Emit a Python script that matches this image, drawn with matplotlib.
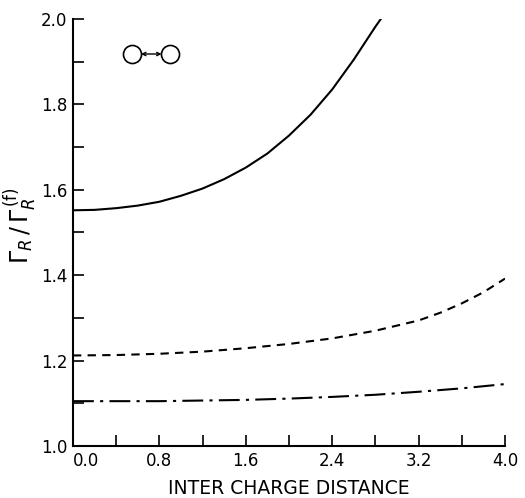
import numpy as np
import matplotlib.pyplot as plt
from matplotlib.ticker import MultipleLocator

# values
x_solid = [0.0, 0.2, 0.4, 0.6, 0.8, 1.0, 1.2, 1.4, 1.6, 1.8, 2.0, 2.2, 2.4, 2.6, 2.8, 2.85]
y_solid = [1.552, 1.553, 1.557, 1.563, 1.572, 1.586, 1.603, 1.625, 1.652, 1.685, 1.727,
           1.776, 1.835, 1.905, 1.982, 2.0]

x_dash = [0.0, 0.4, 0.8, 1.2, 1.6, 2.0, 2.4, 2.8, 3.2, 3.4, 3.6, 3.8, 4.0]
y_dash = [1.212, 1.213, 1.216, 1.221, 1.229, 1.239, 1.252, 1.27, 1.294, 1.312, 1.334,
          1.36, 1.392]

x_dashdot = [0.0, 0.8, 1.6, 2.0, 2.4, 2.8, 3.2, 3.6, 4.0]
y_dashdot = [1.105, 1.105, 1.108, 1.111, 1.115, 1.12, 1.127, 1.135, 1.145]

xticks = [0.0, 0.8, 1.6, 2.4, 3.2, 4.0]
yticks = [1.0, 1.2, 1.4, 1.6, 1.8, 2.0]

plt.rcParams['font.family'] = ['DejaVu Sans']

fig = plt.figure(figsize=(5.25, 4.98), dpi=100)
ax = fig.add_axes([73 / 525, 1 - 446 / 498, 432 / 525, 427 / 498])

ax.plot(x_solid, y_solid, color='black', lw=1.5)
ax.plot(x_dash, y_dash, color='black', lw=1.5, linestyle=(0, (4, 3)))
ax.plot(x_dashdot, y_dashdot, color='black', lw=1.5, linestyle=(0, (10, 3, 1.5, 3)))

# the two-charge symbol
ax.plot([0.545, 0.9], [1.918, 1.918], 'o', ms=13, mfc='none', mec='black', mew=1.2)
ax.annotate('', xy=(0.63, 1.918), xytext=(0.82, 1.918),
            arrowprops=dict(arrowstyle='<->', lw=1.0, color='black',
                            mutation_scale=6, shrinkA=0, shrinkB=0))

ax.set_xlim(0, 4.0)
ax.set_ylim(1.0, 2.0)
ax.set_xticks(xticks)
ax.set_xticklabels([f'{v:.1f}' for v in xticks])
ax.get_xticklabels()[0].set_horizontalalignment('left')
ax.set_yticks(yticks)
ax.set_yticklabels([f'{v:.1f}' for v in yticks])
ax.xaxis.set_minor_locator(MultipleLocator(0.4))
ax.yaxis.set_minor_locator(MultipleLocator(0.1))
ax.tick_params(which='both', direction='in', width=1.2, labelsize=12, length=8)
ax.tick_params(axis='x', pad=4)
ax.tick_params(axis='y', pad=4)

for s in ['top', 'right']:
    ax.spines[s].set_visible(False)
for s in ['left', 'bottom']:
    ax.spines[s].set_linewidth(1.5)

ax.set_xlabel('INTER CHARGE DISTANCE', fontsize=13.5, labelpad=7)
ax.set_ylabel(r'$\Gamma_R\,/\,\Gamma_R^{\,(\mathrm{f})}$', fontsize=17)
ax.yaxis.set_label_coords(-0.078, 0.515)

fig.savefig('out.png', dpi=100)
